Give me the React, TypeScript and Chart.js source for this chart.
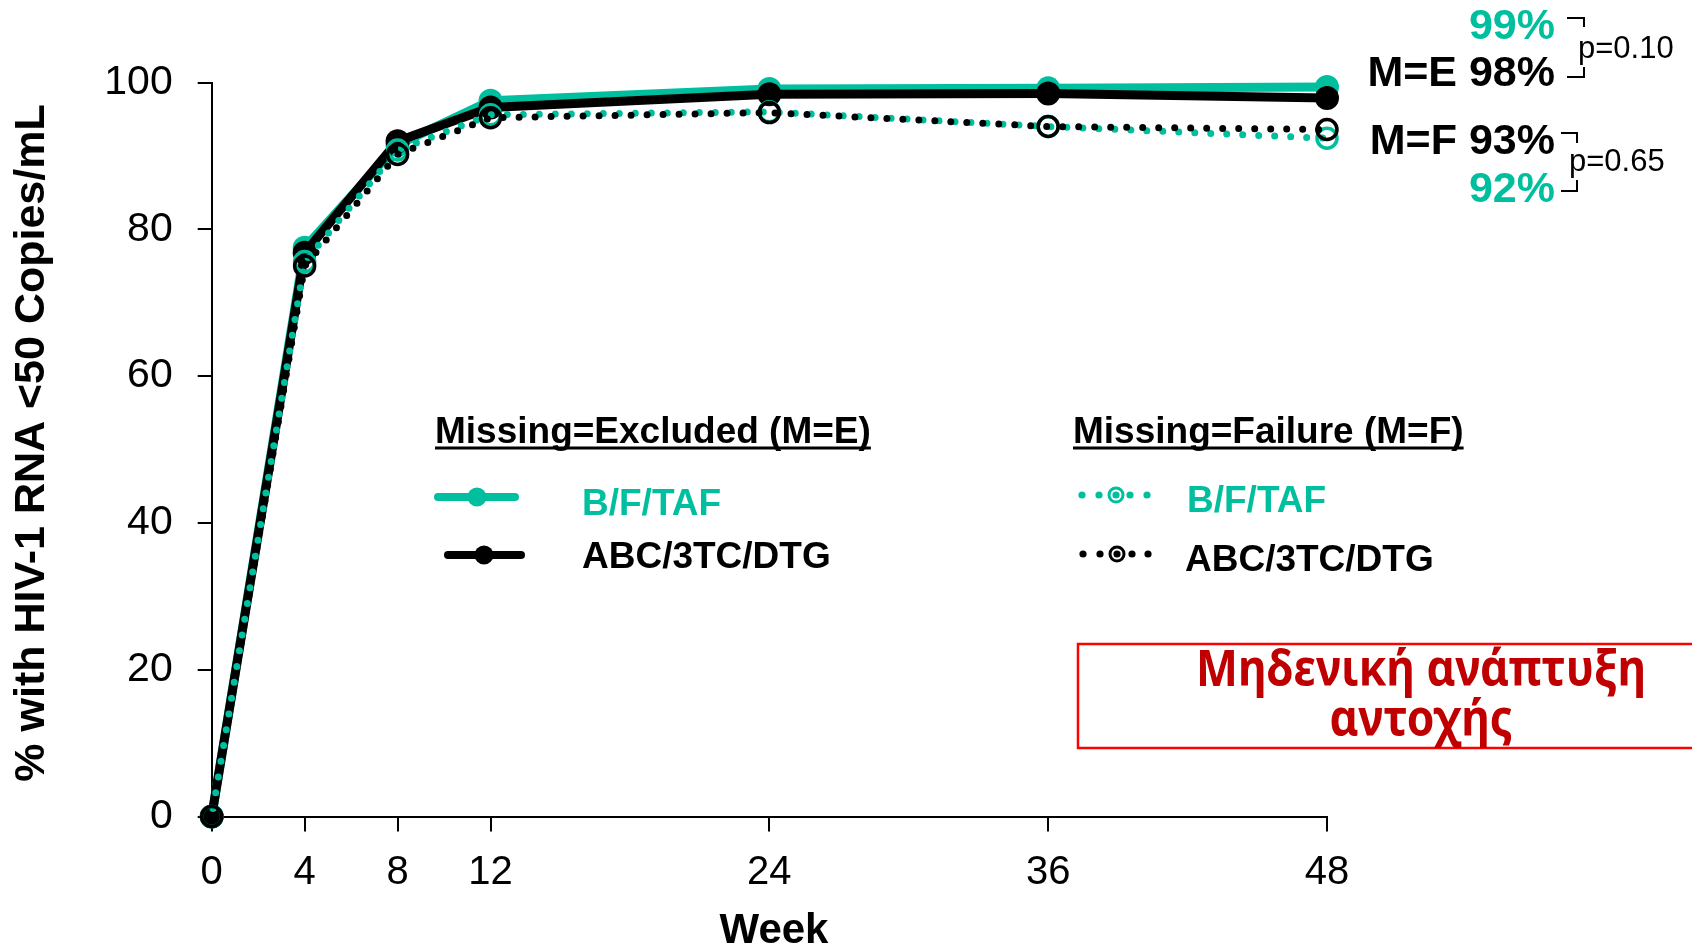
import React, { useEffect, useRef } from 'react';
import { Chart, registerables } from 'chart.js';

Chart.register(...registerables);

// ---- data ----
const weeks = [0, 4, 8, 12, 24, 36, 48];
const bftafExcluded = [0, 77.5, 91.5, 97.5, 99.1, 99.2, 99.4];
const abcExcluded = [0, 76.8, 92.0, 96.6, 98.4, 98.5, 97.9];
const bftafFailure = [0, 75.6, 90.8, 95.6, 96.0, 94.0, 92.4];
const abcFailure = [0, 75.0, 90.2, 95.2, 95.9, 94.0, 93.6];
const yTickValues = [0, 20, 40, 60, 80, 100];
const seriesNames = ['B/F/TAF', 'ABC/3TC/DTG'];
const groupTitles = ['Missing=Excluded (M=E)', 'Missing=Failure (M=F)'];
const endLabels = ['99%', 'M=E 98%', 'M=F 93%', '92%'];
const pValues = ['p=0.10', 'p=0.65'];
const boxLines = ['Μηδενική ανάπτυξη', 'αντοχής'];
const xTitle = 'Week';
const yTitle = '% with HIV-1 RNA <50 Copies/mL';

const TEAL = '#00BF9F';
const BLACK = '#000000';
const DARKRED = '#C00000';
const FONT = "'Liberation Sans', Arial, sans-serif";

const toPoints = (vals: number[]) => weeks.map((w, i) => ({ x: w, y: vals[i] }));

const overlayPlugin = {
  id: 'overlay',
  afterDraw(chart: any) {
    const ctx: CanvasRenderingContext2D = chart.ctx;
    ctx.save();

    // axis titles
    ctx.fillStyle = BLACK;
    ctx.font = `bold 42px ${FONT}`;
    ctx.textAlign = 'center';
    ctx.textBaseline = 'alphabetic';
    ctx.fillText(xTitle, 774, 943);
    ctx.save();
    ctx.font = `bold 43px ${FONT}`;
    ctx.translate(44, 443);
    ctx.rotate(-Math.PI / 2);
    ctx.fillText(yTitle, 0, 0);
    ctx.restore();

    // legend headings
    ctx.textAlign = 'left';
    ctx.font = `bold 37px ${FONT}`;
    const headX = [435, 1073];
    groupTitles.forEach((t, i) => {
      ctx.fillStyle = BLACK;
      ctx.fillText(t, headX[i], 443);
      const w = ctx.measureText(t).width;
      ctx.fillRect(headX[i], 446.5, w, 3);
    });

    // legend: excluded (solid)
    const solidRows = [
      { color: TEAL, x1: 438, x2: 515, mx: 477, y: 497, tx: 582, ty: 515 },
      { color: BLACK, x1: 448, x2: 521, mx: 484, y: 555, tx: 582, ty: 568 },
    ];
    solidRows.forEach((r, i) => {
      ctx.strokeStyle = r.color;
      ctx.lineWidth = 8;
      ctx.lineCap = 'round';
      ctx.beginPath();
      ctx.moveTo(r.x1, r.y);
      ctx.lineTo(r.x2, r.y);
      ctx.stroke();
      ctx.fillStyle = r.color;
      ctx.beginPath();
      ctx.arc(r.mx, r.y, 9.5, 0, Math.PI * 2);
      ctx.fill();
      ctx.font = `bold 37px ${FONT}`;
      ctx.fillText(seriesNames[i], r.tx, r.ty);
    });

    // legend: failure (dotted)
    const dotRows = [
      { color: TEAL, xs: [1082, 1099, 1130, 1147], cx: 1116, y: 495, tx: 1187, ty: 512 },
      { color: BLACK, xs: [1083, 1100, 1132, 1148], cx: 1117, y: 554, tx: 1185, ty: 571 },
    ];
    dotRows.forEach((r, i) => {
      ctx.fillStyle = r.color;
      r.xs.forEach((x) => {
        ctx.beginPath();
        ctx.arc(x, r.y, 3.6, 0, Math.PI * 2);
        ctx.fill();
      });
      ctx.beginPath();
      ctx.arc(r.cx, r.y, 3.6, 0, Math.PI * 2);
      ctx.fill();
      ctx.strokeStyle = r.color;
      ctx.lineWidth = 3;
      ctx.beginPath();
      ctx.arc(r.cx, r.y, 7, 0, Math.PI * 2);
      ctx.stroke();
      ctx.font = `bold 37px ${FONT}`;
      ctx.fillText(seriesNames[i], r.tx, r.ty);
    });

    // end labels
    ctx.textAlign = 'right';
    ctx.font = `bold 43px ${FONT}`;
    const endColors = [TEAL, BLACK, BLACK, TEAL];
    const endY = [38.5, 86, 154, 202];
    endLabels.forEach((t, i) => {
      ctx.fillStyle = endColors[i];
      ctx.fillText(t, 1555, endY[i]);
    });

    // brackets
    ctx.strokeStyle = BLACK;
    ctx.lineWidth = 2;
    ctx.lineCap = 'butt';
    ctx.beginPath();
    ctx.moveTo(1567, 18); ctx.lineTo(1584, 18); ctx.lineTo(1584, 27);
    ctx.moveTo(1584, 67); ctx.lineTo(1584, 77); ctx.lineTo(1567, 77);
    ctx.moveTo(1561, 133); ctx.lineTo(1577, 133); ctx.lineTo(1577, 143);
    ctx.moveTo(1577, 180); ctx.lineTo(1577, 191); ctx.lineTo(1561, 191);
    ctx.stroke();
    ctx.textAlign = 'left';
    ctx.fillStyle = BLACK;
    ctx.font = `31px ${FONT}`;
    ctx.fillText(pValues[0], 1578, 58);
    ctx.fillText(pValues[1], 1569, 171);

    // red box
    ctx.strokeStyle = '#FF0000';
    ctx.lineWidth = 2.5;
    ctx.strokeRect(1078, 644, 700, 104);
    ctx.fillStyle = DARKRED;
    ctx.font = `bold 50px 'Noto Sans', sans-serif`;
    ctx.textAlign = 'center';
    const w1 = ctx.measureText(boxLines[0]).width;
    const sx = 450 / w1;
    const boxBase = [686, 736];
    boxLines.forEach((t, i) => {
      ctx.save();
      ctx.translate(1421, boxBase[i]);
      ctx.scale(sx, 1);
      ctx.fillText(t, 0, 0);
      ctx.restore();
    });

    ctx.restore();
  },
};

export default function App() {
  const canvasRef = useRef<HTMLCanvasElement | null>(null);

  useEffect(() => {
    const canvas = canvasRef.current;
    if (!canvas) return;
    Chart.defaults.font.family = FONT;
    const chart = new Chart(canvas, {
      type: 'line',
      data: {
        datasets: [
          {
            label: 'B/F/TAF M=E',
            data: toPoints(bftafExcluded),
            borderColor: TEAL,
            backgroundColor: TEAL,
            borderWidth: 9,
            borderJoinStyle: 'round',
            pointRadius: 12,
            pointBorderWidth: 0,
            pointBackgroundColor: TEAL,
            clip: false,
            order: 3,
          },
          {
            label: 'ABC/3TC/DTG M=E',
            data: toPoints(abcExcluded),
            borderColor: BLACK,
            backgroundColor: BLACK,
            borderWidth: 9,
            borderJoinStyle: 'round',
            pointRadius: 12,
            pointBorderWidth: 0,
            pointBackgroundColor: BLACK,
            clip: false,
            order: 2,
          },
          {
            label: 'B/F/TAF M=F',
            data: toPoints(bftafFailure),
            borderColor: TEAL,
            borderWidth: 7,
            borderDash: [0, 16],
            borderDashOffset: 8,
            borderCapStyle: 'round',
            pointRadius: 10,
            pointBorderWidth: 3.5,
            pointBorderColor: TEAL,
            pointBackgroundColor: 'rgba(0,0,0,0)',
            clip: false,
            order: 1,
          },
          {
            label: 'ABC/3TC/DTG M=F',
            data: toPoints(abcFailure),
            borderColor: BLACK,
            borderWidth: 7,
            borderDash: [0, 16],
            borderCapStyle: 'round',
            pointRadius: 10,
            pointBorderWidth: 3.5,
            pointBorderColor: BLACK,
            pointBackgroundColor: 'rgba(0,0,0,0)',
            clip: false,
            order: 0,
          },
        ],
      },
      options: {
        responsive: false,
        animation: false,
        devicePixelRatio: 1,
        layout: { padding: { left: 0, top: 82.5, right: 365, bottom: 0 } },
        plugins: {
          legend: { display: false },
          tooltip: { enabled: false },
        },
        scales: {
          x: {
            type: 'linear',
            min: 0,
            max: 48,
            afterBuildTicks: (scale: any) => {
              scale.ticks = weeks.map((v) => ({ value: v }));
            },
            afterFit: (scale: any) => {
              scale.height = 128.5;
            },
            ticks: {
              autoSkip: false,
              maxRotation: 0,
              color: BLACK,
              padding: 17,
              font: { size: 40, family: FONT },
            },
            grid: {
              drawOnChartArea: false,
              drawTicks: true,
              tickLength: 15,
              color: BLACK,
              lineWidth: 2,
            },
            border: { display: true, color: BLACK, width: 2 },
          },
          y: {
            min: 0,
            max: 100,
            afterBuildTicks: (scale: any) => {
              scale.ticks = yTickValues.map((v) => ({ value: v }));
            },
            afterFit: (scale: any) => {
              scale.width = 211.7;
            },
            ticks: {
              color: BLACK,
              padding: 25,
              font: { size: 41, family: FONT },
            },
            grid: {
              drawOnChartArea: false,
              drawTicks: true,
              tickLength: 14,
              color: BLACK,
              lineWidth: 2,
            },
            border: { display: true, color: BLACK, width: 2 },
          },
        },
      } as any,
      plugins: [overlayPlugin],
    });
    return () => chart.destroy();
  }, []);

  return (
    <div style={{ position: 'absolute', left: 0, top: 0, width: 1692, height: 945, background: '#fff' }}>
      <canvas ref={canvasRef} width={1692} height={945} style={{ display: 'block' }} />
    </div>
  );
}
